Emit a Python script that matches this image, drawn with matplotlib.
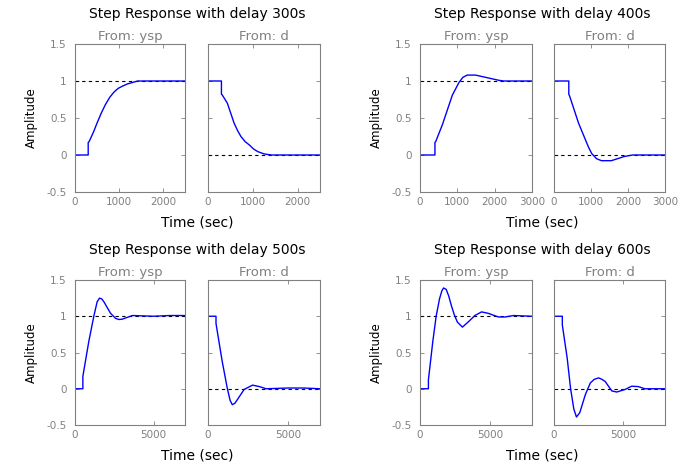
import numpy as np
import matplotlib.pyplot as plt

plt.rcParams['font.family'] = ['DejaVu Sans']

# Atrasos e limites do eixo x de cada grupo
delays = [300, 400, 500, 600]
x_max = [2500, 3000, 7000, 8000]

# Resposta ao degrau a partir de ysp (tempo, amplitude)
t_ysp_300 = [0, 300, 300, 320, 420, 500, 600, 690, 790, 885, 980, 1077, 1190, 1308, 1423, 2500]
y_ysp_300 = [0, 0, 0.17, 0.18, 0.31, 0.43, 0.57, 0.68, 0.78, 0.85, 0.90, 0.93, 0.96, 0.98, 1.0, 1.0]

t_ysp_400 = [0, 400, 400, 420, 600, 867, 1044, 1150, 1265, 1487, 1752, 2106, 2240, 3000]
y_ysp_400 = [0, 0, 0.17, 0.18, 0.41, 0.81, 0.98, 1.05, 1.08, 1.08, 1.05, 1.01, 1.0, 1.0]

t_ysp_500 = [0, 500, 500, 876, 1197, 1410, 1560, 1700, 1838, 2050, 2265, 2585, 2800, 3013,
             3654, 5000, 6000, 7000]
y_ysp_500 = [0, 0, 0.17, 0.65, 1.0, 1.2, 1.25, 1.24, 1.2, 1.12, 1.04, 0.97, 0.955, 0.96,
             1.01, 1.0, 1.01, 1.01]

t_ysp_600 = [0, 600, 600, 913, 1154, 1394, 1560, 1683, 1875, 2050, 2236, 2450, 2668, 3029,
             3438, 3918, 4399, 4880, 5601, 6082, 6683, 8000]
y_ysp_600 = [0, 0, 0.12, 0.65, 1.0, 1.24, 1.35, 1.39, 1.37, 1.28, 1.15, 1.02, 0.92, 0.85,
             0.92, 1.01, 1.06, 1.04, 0.99, 0.99, 1.01, 1.0]

# Resposta ao degrau a partir de d
t_d_300 = [0, 300, 300, 320, 432, 583, 660, 735, 830, 924, 1020, 1114, 1250, 1417, 2500]
y_d_300 = [1, 1, 0.82, 0.81, 0.70, 0.43, 0.33, 0.25, 0.18, 0.135, 0.08, 0.045, 0.015, 0.0, 0.0]

t_d_400 = [0, 400, 400, 420, 664, 929, 1018, 1150, 1283, 1549, 1903, 2124, 3000]
y_d_400 = [1, 1, 0.82, 0.80, 0.43, 0.11, 0.02, -0.05, -0.077, -0.077, -0.02, 0.0, 0.0]

t_d_500 = [0, 500, 500, 886, 1202, 1380, 1519, 1680, 1835, 2257, 2785, 3207, 3629, 5000,
           6000, 7000]
y_d_500 = [1, 1, 0.9, 0.38, 0.01, -0.16, -0.22, -0.20, -0.15, -0.01, 0.05, 0.03, 0.0, 0.01,
           0.01, 0.0]

t_d_600 = [0, 600, 600, 952, 1190, 1429, 1619, 1857, 2262, 2619, 2900, 3214, 3450, 3690,
           4167, 4524, 5119, 5595, 6071, 6548, 8000]
y_d_600 = [1, 1, 0.88, 0.42, 0.01, -0.28, -0.39, -0.33, -0.08, 0.08, 0.13, 0.15, 0.13, 0.10,
           -0.03, -0.045, -0.01, 0.035, 0.03, 0.0, 0.0]

respostas_ysp = [(t_ysp_300, y_ysp_300), (t_ysp_400, y_ysp_400),
                 (t_ysp_500, y_ysp_500), (t_ysp_600, y_ysp_600)]
respostas_d = [(t_d_300, y_d_300), (t_d_400, y_d_400),
               (t_d_500, y_d_500), (t_d_600, y_d_600)]

W, H = 693, 465
fig = plt.figure(figsize=(W / 100, H / 100), dpi=100)

cinza = '#808080'
# posicoes em pixels: (esquerda, direita) dos dois eixos e (topo, base)
colunas = [(75, 185, 208, 320), (420, 532, 554, 665)]
linhas = [(44, 192), (280, 425)]


def eixo(x0, x1, y0, y1):
    return fig.add_axes([x0 / W, (H - y1) / H, (x1 - x0) / W, (y1 - y0) / H])


for i in range(4):
    lx0, lx1, rx0, rx1 = colunas[i % 2]
    top, bot = linhas[i // 2]
    ax_l = eixo(lx0, lx1, top, bot)
    ax_r = eixo(rx0, rx1, top, bot)
    for ax, (t, y), ref, nome in [(ax_l, respostas_ysp[i], 1, 'From: ysp'),
                                  (ax_r, respostas_d[i], 0, 'From: d')]:
        ax.axhline(ref, color='k', linestyle=(0, (3, 3)), linewidth=0.8)
        ax.plot(t, y, color='#0000ff', linewidth=1)
        ax.set_xlim(0, x_max[i])
        ax.set_ylim(-0.5, 1.5)
        ax.set_yticks([-0.5, 0, 0.5, 1, 1.5])
        ax.set_yticklabels(['-0.5', '0', '0.5', '1', '1.5'])
        ax.tick_params(direction='in', top=True, right=True, length=3,
                       labelsize=7.5, colors=cinza, labelcolor=cinza, width=0.6)
        ax.tick_params(axis='y', pad=6)
        for s in ax.spines.values():
            s.set_color(cinza)
            s.set_linewidth(0.8)
        ax.set_title(nome, color=cinza, fontsize=9.5, pad=3)
    if x_max[i] > 5000:
        ticks = [0, 5000]
    else:
        ticks = [0, 1000, 2000] + ([3000] if x_max[i] >= 3000 else [])
    ax_l.set_xticks(ticks)
    ax_r.set_xticks(ticks)
    ax_r.set_yticklabels([])
    ax_l.set_ylabel('Amplitude', fontsize=8.5, labelpad=6)
    cx = (lx0 + rx1) / 2 / W
    fig.text(cx, 1 - (top - 30) / H, 'Step Response with delay %ds' % delays[i],
             ha='center', va='center', fontsize=10)
    fig.text(cx, 1 - (bot + 30) / H, 'Time (sec)', ha='center', va='center', fontsize=10)

fig.savefig('out.png', dpi=100)
